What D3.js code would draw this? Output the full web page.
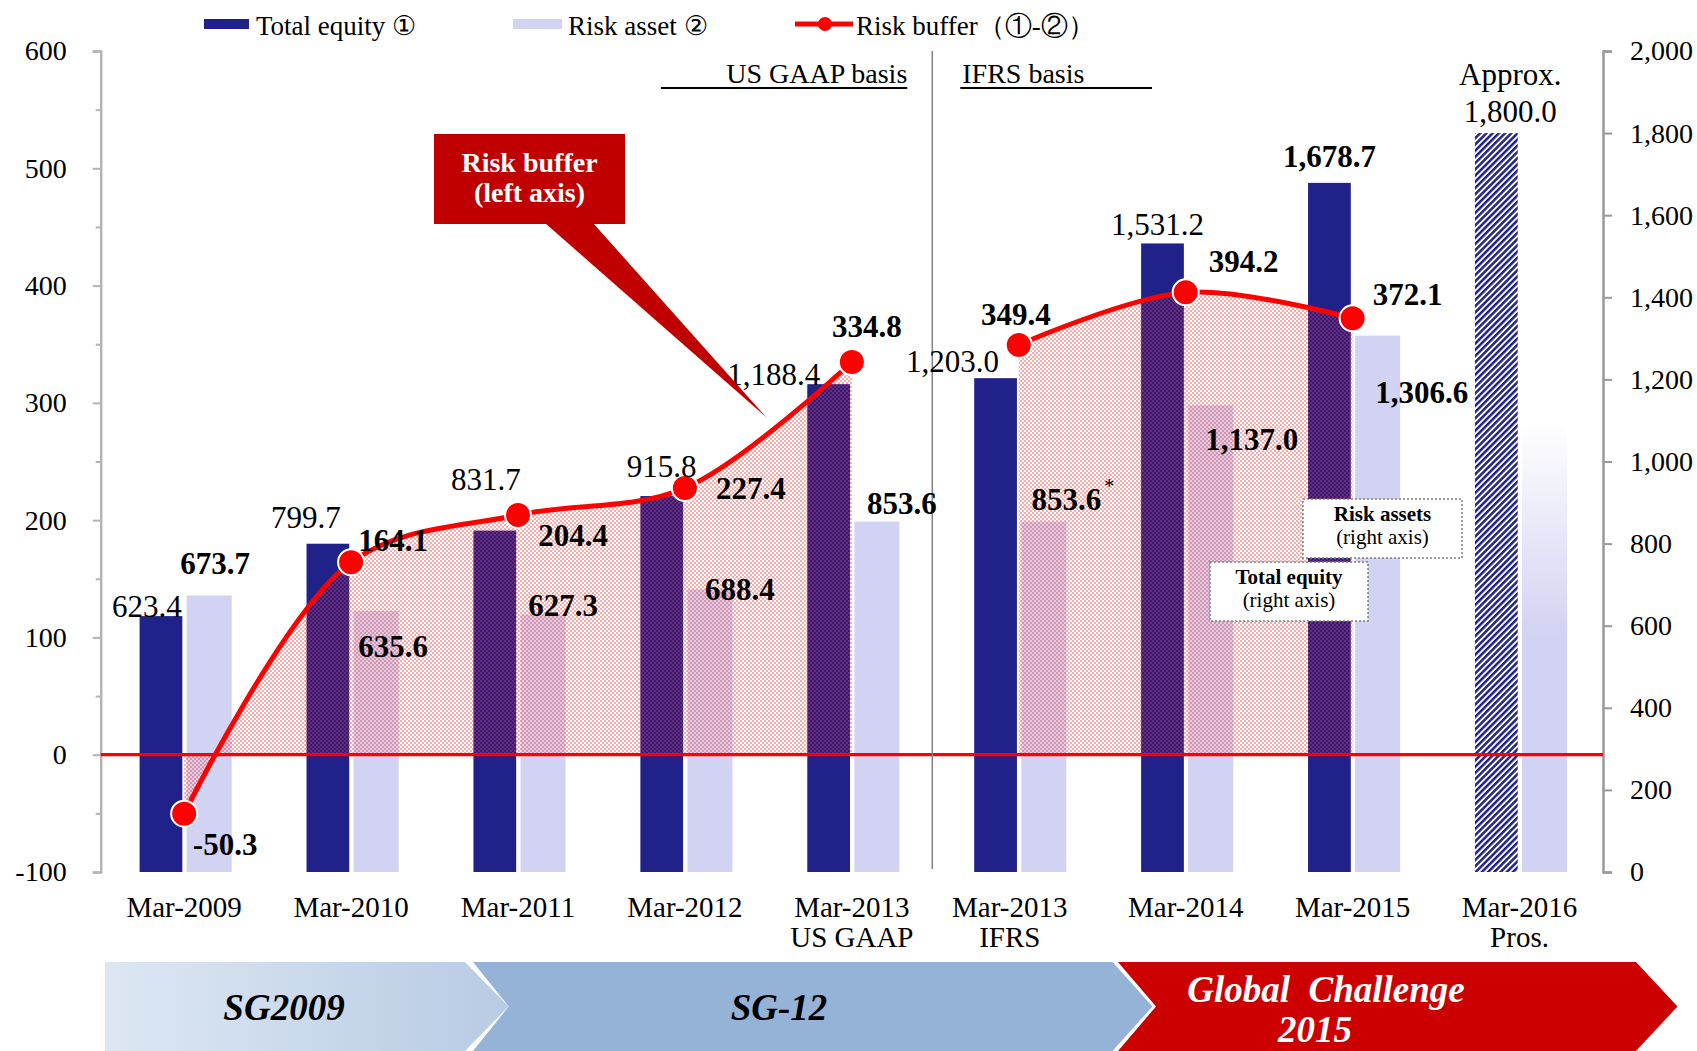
<!DOCTYPE html>
<html><head><meta charset="utf-8">
<script src="https://cdn.jsdelivr.net/npm/d3@7"></script>
<style>
html,body{margin:0;padding:0;background:#fff;}
svg{display:block;font-family:"Liberation Serif","Times New Roman",serif;}
</style></head><body>
<svg id="chart" width="1697" height="1051"></svg>
<script>
// ---- data ----
const categories  = ["Mar-2009","Mar-2010","Mar-2011","Mar-2012","Mar-2013","Mar-2013","Mar-2014","Mar-2015","Mar-2016"];
const categorySub = ["","","","","US GAAP","IFRS","","","Pros."];
const basis       = ["US GAAP","US GAAP","US GAAP","US GAAP","US GAAP","IFRS","IFRS","IFRS","IFRS"];
const totalEquity = [623.4, 799.7, 831.7, 915.8, 1188.4, 1203.0, 1531.2, 1678.7, 1800.0];
const riskAsset   = [673.7, 635.6, 627.3, 688.4, 853.6, 853.6, 1137.0, 1306.6, 1100.0];
const riskBuffer  = [-50.3, 164.1, 204.4, 227.4, 334.8, 349.4, 394.2, 372.1, null];
const leftTicks   = [-100, 0, 100, 200, 300, 400, 500, 600];
const leftMinor   = [-50, 50, 150, 250, 350, 450, 550];
const rightTicks  = [0, 200, 400, 600, 800, 1000, 1200, 1400, 1600, 1800, 2000];
const phases      = ["SG2009", "SG-12", "Global  Challenge|2015"];

// label nudges (px) relative to each mark's anchor
const eqLabelShift   = [[-14,1],[-22,-16],[-9,-41],[0,-19],[-55,1],[-43,-6],[-5,-8],[0,-16],[14,-11]];
const riskLabelShift = [[6,-21],[17,46],[20,2],[30,11],[25,-8],[29,-12],[41,45],[44,67]];
const bufLabelShift  = [[41,41],[42,-11],[55,31],[66,11],[15,-25],[-3,-20],[58,-20],[55,-13]];
const catLabelShift  = [0,0,0,0,0,-9,0,0,0];

const NAVY = "#21218a", LAV = "#d2d2f2", RED = "#ff0000";
const svg = d3.select("#chart");
const L = 100.7, R = 1603, T = 51, B = 872;

const x = d3.scaleBand().domain(d3.range(categories.length)).range([L, R]).padding(0);
const bw = x.bandwidth();
const cx = i => x(i) + bw / 2;
const yL = d3.scaleLinear().domain([-100, 600]).range([B, T]);
const yR = d3.scaleLinear().domain([0, 2000]).range([B, T]);

const defs = svg.append("defs");
// dotted pink fill for the buffer area
const dots = defs.append("pattern").attr("id","dots").attr("patternUnits","userSpaceOnUse")
  .attr("width",4).attr("height",4);
dots.append("rect").attr("width",2).attr("height",2).attr("fill","#ff3030").attr("opacity",0.42);
dots.append("rect").attr("x",2).attr("y",2).attr("width",2).attr("height",2).attr("fill","#ff3030").attr("opacity",0.42);
// hatched prospect bar
const hatch = defs.append("pattern").attr("id","hatch").attr("patternUnits","userSpaceOnUse")
  .attr("width",4.4).attr("height",10).attr("patternTransform","rotate(45)");
hatch.append("rect").attr("width",4.4).attr("height",10).attr("fill","#fff");
hatch.append("rect").attr("width",2.5).attr("height",10).attr("fill",NAVY);
// fading prospect risk-asset bar
const fade = defs.append("linearGradient").attr("id","fade").attr("x1",0).attr("y1",0).attr("x2",0).attr("y2",1);
fade.append("stop").attr("offset","0%").attr("stop-color",LAV).attr("stop-opacity",0);
fade.append("stop").attr("offset","48%").attr("stop-color",LAV).attr("stop-opacity",1);
fade.append("stop").attr("offset","100%").attr("stop-color",LAV).attr("stop-opacity",1);
// first phase arrow gradient
const g1 = defs.append("linearGradient").attr("id","phase1").attr("x1",0).attr("x2",1).attr("y1",0).attr("y2",0);
g1.append("stop").attr("offset","0%").attr("stop-color","#dde7f3");
g1.append("stop").attr("offset","100%").attr("stop-color","#b7cbe4");

// ---- axes ----
const fmtL = d => d < 0 ? "-" + Math.abs(d) : String(d);
const axL = svg.append("g").attr("transform",`translate(${L},0)`)
  .call(d3.axisLeft(yL).tickValues(leftTicks).tickSize(8).tickPadding(26).tickFormat(fmtL));
svg.append("g").attr("transform",`translate(${L},0)`)
  .call(d3.axisLeft(yL).tickValues(leftMinor).tickSize(5).tickFormat(""))
  .call(g => g.select(".domain").remove());
const axR = svg.append("g").attr("transform",`translate(${R},0)`)
  .call(d3.axisRight(yR).tickValues(rightTicks).tickSize(9).tickPadding(18).tickFormat(d3.format(",")));
svg.selectAll(".domain").attr("stroke","#b4b4b4").attr("stroke-width",2.5);
svg.selectAll(".tick line").attr("stroke","#b4b4b4").attr("stroke-width",2);
axR.select(".domain").attr("stroke","#999");
axR.selectAll(".tick line").attr("stroke","#999");
svg.selectAll(".tick text").attr("font-size",28).attr("fill","#000")
  .attr("font-family","Liberation Serif, Times New Roman, serif");

// ---- bars ----
const eqX = i => cx(i) - bw * 0.267, eqW = bw * 0.256;
const raX = i => cx(i) + bw * 0.015, raW = bw * 0.27;
svg.append("g").selectAll("rect").data(totalEquity).join("rect")
  .attr("x",(d,i)=>eqX(i)).attr("width",eqW)
  .attr("y",d=>yR(d)).attr("height",d=>yR(0)-yR(d))
  .attr("fill",(d,i)=> categorySub[i]==="Pros." ? "url(#hatch)" : NAVY);
svg.append("g").selectAll("rect").data(riskAsset).join("rect")
  .attr("x",(d,i)=>raX(i)).attr("width",raW)
  .attr("y",d=>yR(d)).attr("height",d=>yR(0)-yR(d))
  .attr("fill",(d,i)=> categorySub[i]==="Pros." ? "url(#fade)" : LAV);

// ---- risk buffer: area + line, one segment per accounting basis ----
const pts = riskBuffer.map((v,i)=>({i, v, b: basis[i]})).filter(p => p.v !== null);
const segments = d3.groups(pts, p => p.b).map(g => g[1]);
const curve = d3.curveCatmullRom.alpha(0.5);
const area = d3.area().x(p=>cx(p.i)).y0(yL(0)).y1(p=>yL(p.v)).curve(curve);
const line = d3.line().x(p=>cx(p.i)).y(p=>yL(p.v)).curve(curve);
svg.append("g").selectAll("path").data(segments).join("path").attr("d",area).attr("fill","url(#dots)");

// zero line
svg.append("line").attr("x1",L).attr("x2",R).attr("y1",yL(0)).attr("y2",yL(0))
  .attr("stroke",RED).attr("stroke-width",3.2);

// basis divider
const divX = x(5);
svg.append("line").attr("x1",divX-3).attr("x2",divX-3).attr("y1",T).attr("y2",B-3)
  .attr("stroke","#808080").attr("stroke-width",1.5);
svg.append("text").attr("x",divX-28).attr("y",83).attr("text-anchor","end").attr("font-size",28).text("US GAAP basis");
svg.append("line").attr("x1",661).attr("x2",divX-28).attr("y1",88).attr("y2",88).attr("stroke","#000").attr("stroke-width",2);
svg.append("text").attr("x",divX+27).attr("y",83).attr("font-size",28).text("IFRS basis");
svg.append("line").attr("x1",divX+25).attr("x2",1152).attr("y1",88).attr("y2",88).attr("stroke","#000").attr("stroke-width",2);

svg.append("g").selectAll("path").data(segments).join("path").attr("d",line)
  .attr("fill","none").attr("stroke",RED).attr("stroke-width",5);
svg.append("g").selectAll("circle").data(pts).join("circle")
  .attr("cx",p=>cx(p.i)).attr("cy",p=>yL(p.v)).attr("r",13)
  .attr("fill",RED).attr("stroke","#fff").attr("stroke-width",2);

// ---- labels ----
const fmt1 = v => d3.format(",.1f")(v).replace("\u2212", "-");
const eqL = svg.append("g").attr("font-size",31).attr("text-anchor","middle");
totalEquity.forEach((v,i)=>{
  const t = eqL.append("text")
    .attr("x", eqX(i)+eqW/2 + eqLabelShift[i][0])
    .attr("y", yR(v) + eqLabelShift[i][1])
    .attr("font-weight", i===7 ? "bold" : "normal");
  if (categorySub[i]==="Pros.") {
    t.append("tspan").attr("x", eqX(i)+eqW/2 + eqLabelShift[i][0]).attr("dy",-36.7).text("Approx.");
    t.append("tspan").attr("x", eqX(i)+eqW/2 + eqLabelShift[i][0]).attr("dy",36.7).text(fmt1(v));
  } else t.text(fmt1(v));
});
const raL = svg.append("g").attr("font-size",31).attr("font-weight","bold").attr("text-anchor","middle");
riskAsset.forEach((v,i)=>{
  if (categorySub[i]==="Pros.") return;
  const t = raL.append("text")
    .attr("x", raX(i)+raW/2 + riskLabelShift[i][0])
    .attr("y", yR(v) + riskLabelShift[i][1]);
  t.append("tspan").text(fmt1(v));
  if (i===5) {
    t.append("tspan").attr("font-weight","normal").attr("font-size",20).attr("dy",-17).attr("dx",3).text("*");
  }
});
const bfL = svg.append("g").attr("font-size",31).attr("font-weight","bold").attr("text-anchor","middle");
pts.forEach(p=>{
  bfL.append("text").attr("x",cx(p.i)+bufLabelShift[p.i][0]).attr("y",yL(p.v)+bufLabelShift[p.i][1])
    .text(fmt1(p.v));
});

// category labels
const catL = svg.append("g").attr("font-size",29).attr("text-anchor","middle");
categories.forEach((c,i)=>{
  const lx = cx(i) + catLabelShift[i];
  const t = catL.append("text").attr("x",lx).attr("y",917);
  t.append("tspan").attr("x",lx).text(c);
  if (categorySub[i]) t.append("tspan").attr("x",lx).attr("dy",30).text(categorySub[i]);
});

// ---- callouts ----
const cb = svg.append("g");
cb.append("path").attr("d","M545,223 L593,223 L767,418 Z").attr("fill","#c00000");
cb.append("rect").attr("x",434).attr("y",134).attr("width",191).attr("height",90).attr("fill","#c00000");
cb.append("text").attr("x",529.5).attr("y",172).attr("text-anchor","middle").attr("fill","#fff")
  .attr("font-weight","bold").attr("font-size",28).text("Risk buffer");
cb.append("text").attr("x",529.5).attr("y",202).attr("text-anchor","middle").attr("fill","#fff")
  .attr("font-weight","bold").attr("font-size",28).text("(left axis)");

function noteBox(x0,y0,w,h,title){
  const g = svg.append("g");
  g.append("rect").attr("x",x0).attr("y",y0).attr("width",w).attr("height",h)
    .attr("fill","#fff").attr("stroke","#7f7f7f").attr("stroke-width",1.5).attr("stroke-dasharray","2,2");
  g.append("text").attr("x",x0+w/2).attr("y",y0+22).attr("text-anchor","middle")
    .attr("font-size",21).attr("font-weight","bold").text(title);
  g.append("text").attr("x",x0+w/2).attr("y",y0+45).attr("text-anchor","middle")
    .attr("font-size",21).text("(right axis)");
}
noteBox(1303,499,159,59,"Risk assets");
noteBox(1210,562,158,59,"Total equity");

// ---- legend ----
const lg = svg.append("g").attr("font-size",27);
lg.append("rect").attr("x",204).attr("y",19).attr("width",45).attr("height",10).attr("fill",NAVY);
lg.append("text").attr("x",256).attr("y",35).text("Total equity ①");
lg.append("rect").attr("x",513).attr("y",19).attr("width",49).attr("height",10).attr("fill",LAV);
lg.append("text").attr("x",568).attr("y",35).text("Risk asset ②");
lg.append("line").attr("x1",795).attr("x2",853).attr("y1",24).attr("y2",24).attr("stroke",RED).attr("stroke-width",5);
lg.append("circle").attr("cx",825).attr("cy",24).attr("r",7).attr("fill",RED);
lg.append("text").attr("x",856).attr("y",35).text("Risk buffer（①-②）");

// ---- phase arrows ----
const ph = svg.append("g");
const arrTop = 962, arrMid = 1006.5, arrBot = 1051;
const arrows = [
  {pts:[[105,arrTop],[465,arrTop],[508.5,arrMid],[465,arrBot],[105,arrBot]], fill:"url(#phase1)"},
  {pts:[[473,arrTop],[1112.5,arrTop],[1152.5,arrMid],[1112.5,arrBot],[473,arrBot],[508.7,arrMid]], fill:"#95b3d7"},
  {pts:[[1118,arrTop],[1636,arrTop],[1677.5,arrMid],[1636,arrBot],[1118,arrBot],[1156,arrMid]], fill:"#cc0000"}
];
ph.selectAll("polygon").data(arrows).join("polygon")
  .attr("points",d=>d.pts.map(p=>p.join(",")).join(" ")).attr("fill",d=>d.fill);
const phText = ph.append("g").attr("font-size",37).attr("font-weight","bold").attr("font-style","italic").attr("text-anchor","middle");
phText.append("text").attr("x",284).attr("y",1020).attr("fill","#000").text(phases[0]);
phText.append("text").attr("x",779).attr("y",1020).attr("fill","#000").text(phases[1]);
const gl = phases[2].split("|");
phText.append("text").attr("x",1326).attr("y",1002).attr("fill","#fff").style("white-space","pre").text(gl[0]);
phText.append("text").attr("x",1315).attr("y",1042).attr("fill","#fff").text(gl[1]);
</script>
</body></html>
